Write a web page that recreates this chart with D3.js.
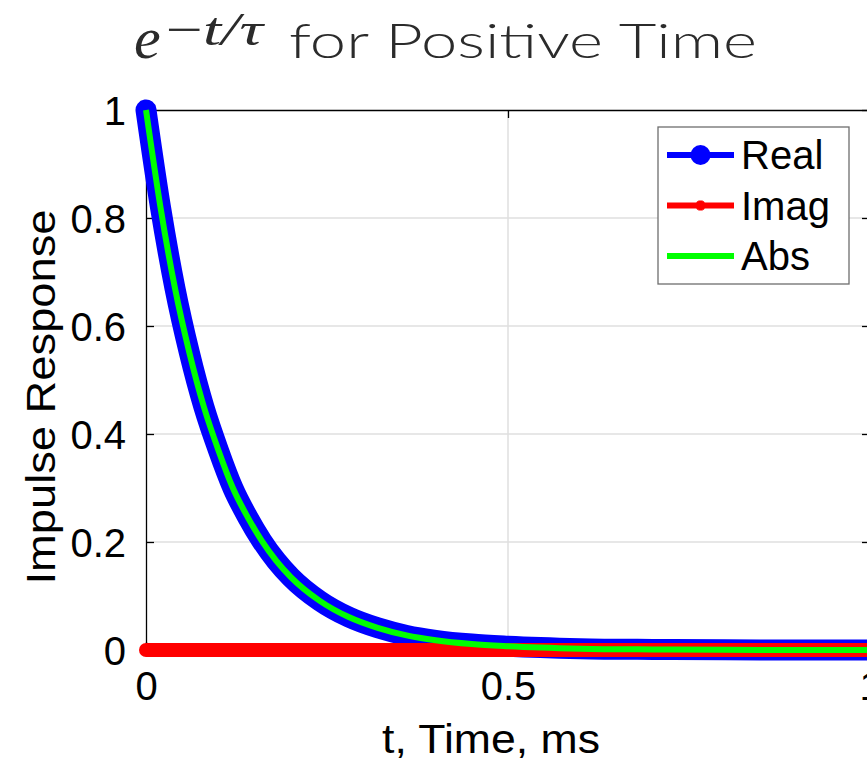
<!DOCTYPE html>
<html>
<head>
<meta charset="utf-8">
<script src="https://cdn.jsdelivr.net/npm/d3@7"></script>
<style>
  html, body { margin: 0; padding: 0; background: #fff; overflow: hidden; }
  svg { display: block; }
</style>
</head>
<body>
<div id="chart"></div>
<script>
// values
const timeMs = [0, 0.02, 0.04, 0.06, 0.08, 0.10, 0.12, 0.14, 0.16, 0.18, 0.20,
  0.24, 0.28, 0.32, 0.36, 0.40, 0.45, 0.50, 0.60, 0.70, 0.80, 0.90, 1.00];
const realPart = [1, 0.82, 0.67, 0.55, 0.45, 0.37, 0.30, 0.247, 0.202, 0.165, 0.135,
  0.091, 0.061, 0.041, 0.027, 0.018, 0.011, 0.007, 0.0025, 0.001, 0.0003, 0.0001, 0];
const imagPart = [0, 0, 0, 0, 0, 0, 0, 0, 0, 0, 0,
  0, 0, 0, 0, 0, 0, 0, 0, 0, 0, 0, 0];
const absPart = [1, 0.82, 0.67, 0.55, 0.45, 0.37, 0.30, 0.247, 0.202, 0.165, 0.135,
  0.091, 0.061, 0.041, 0.027, 0.018, 0.011, 0.007, 0.0025, 0.001, 0.0003, 0.0001, 0];

const xTicks = [0, 0.5, 1];
const yTicks = [0, 0.2, 0.4, 0.6, 0.8, 1];
const seriesNames = ["Real", "Imag", "Abs"];

const width = 867;
const height = 763;
const margin = { top: 110, left: 146 };
const plotW = 724;
const plotH = 540;

const svg = d3.select("#chart")
  .append("svg")
  .attr("width", width)
  .attr("height", height);

const x = d3.scaleLinear().domain([0, 1]).range([margin.left, margin.left + plotW]);
const y = d3.scaleLinear().domain([0, 1]).range([margin.top + plotH, margin.top]);

// grid
const grid = svg.append("g").attr("stroke", "#dfdfdf").attr("stroke-width", 1.5);
grid.selectAll("line.gy")
  .data(yTicks.filter(d => d > 0 && d < 1))
  .enter().append("line")
  .attr("x1", x(0)).attr("x2", x(1))
  .attr("y1", d => y(d)).attr("y2", d => y(d));
grid.selectAll("line.gx")
  .data(xTicks.filter(d => d > 0 && d < 1))
  .enter().append("line")
  .attr("y1", y(0)).attr("y2", y(1))
  .attr("x1", d => x(d)).attr("x2", d => x(d));

// axes box + ticks
const axisFont = "'Liberation Sans', Arial, sans-serif";

const bottomAxis = svg.append("g")
  .attr("transform", `translate(0,${y(0)})`)
  .call(d3.axisBottom(x).tickValues(xTicks).tickFormat(d3.format("")).tickSizeInner(-8).tickSizeOuter(0).tickPadding(22));
const topAxis = svg.append("g")
  .attr("transform", `translate(0,${y(1)})`)
  .call(d3.axisTop(x).tickValues(xTicks).tickFormat("").tickSizeInner(-8).tickSizeOuter(0));
const leftAxis = svg.append("g")
  .attr("transform", `translate(${x(0)},0)`)
  .call(d3.axisLeft(y).tickValues(yTicks).tickFormat(d3.format("")).tickSizeInner(-8).tickSizeOuter(0).tickPadding(20));
const rightAxis = svg.append("g")
  .attr("transform", `translate(${x(1)},0)`)
  .call(d3.axisRight(y).tickValues(yTicks).tickFormat("").tickSizeInner(-8).tickSizeOuter(0));

[bottomAxis, topAxis, leftAxis, rightAxis].forEach(g => {
  g.select(".domain").attr("stroke", "#000").attr("stroke-width", 1.3);
  g.selectAll(".tick line").attr("stroke", "#000").attr("stroke-width", 1.3);
  g.selectAll("text")
    .attr("fill", "#000")
    .style("font-family", axisFont)
    .style("font-size", "40px");
});
bottomAxis.selectAll("text").attr("dy", "0.71em");
leftAxis.selectAll("text").attr("dy", "0.36em");

// data lines
const pts = arr => timeMs.map((t, i) => [t, arr[i]]);
const line = d3.line()
  .x(d => x(d[0]))
  .y(d => y(d[1]))
  .curve(d3.curveMonotoneX);

svg.append("path")
  .attr("d", line(pts(realPart)))
  .attr("fill", "none")
  .attr("stroke", "#0000ff")
  .attr("stroke-width", 21)
  .attr("stroke-linecap", "round")
  .attr("stroke-linejoin", "round");

svg.append("path")
  .attr("d", line(pts(imagPart)))
  .attr("fill", "none")
  .attr("stroke", "#ff0000")
  .attr("stroke-width", 14)
  .attr("stroke-linecap", "round");

svg.append("path")
  .attr("d", line(pts(absPart)))
  .attr("fill", "none")
  .attr("stroke", "#00ff00")
  .attr("stroke-width", 6)
  .attr("stroke-linejoin", "round");

// legend
const legend = svg.append("g").attr("transform", "translate(658,127)");
legend.append("rect")
  .attr("width", 191).attr("height", 157)
  .attr("fill", "#fff")
  .attr("stroke", "#6e6e6e")
  .attr("stroke-width", 1.3);

const legendColors = { Real: "#0000ff", Imag: "#ff0000", Abs: "#00ff00" };
const row = legend.selectAll("g.row")
  .data(seriesNames)
  .enter().append("g")
  .attr("transform", (d, i) => `translate(0,${28 + i * 50.5})`);

row.append("line")
  .attr("x1", 9).attr("x2", 76)
  .attr("stroke", d => legendColors[d])
  .attr("stroke-width", 6);

row.filter(d => d === "Real").append("circle")
  .attr("cx", 42.5).attr("r", 10)
  .attr("fill", "#0000ff");

row.filter(d => d === "Imag").append("path")
  .attr("transform", "translate(42.5,0)")
  .attr("d", d3.symbol(d3.symbolAsterisk, 70))
  .attr("fill", "none")
  .attr("stroke", "#ff0000")
  .attr("stroke-width", 4.5);

row.append("text")
  .attr("x", 83)
  .attr("dy", "0.36em")
  .attr("fill", "#000")
  .style("font-family", axisFont)
  .style("font-size", "40px")
  .text(d => d);

// axis labels
svg.append("text")
  .attr("x", 491)
  .attr("y", 753)
  .attr("text-anchor", "middle")
  .attr("textLength", 218)
  .attr("lengthAdjust", "spacingAndGlyphs")
  .attr("fill", "#000")
  .style("font-family", axisFont)
  .style("font-size", "41px")
  .text("t, Time, ms");

svg.append("text")
  .attr("transform", "translate(55,397) rotate(-90)")
  .attr("text-anchor", "middle")
  .attr("textLength", 375)
  .attr("lengthAdjust", "spacingAndGlyphs")
  .attr("fill", "#000")
  .style("font-family", axisFont)
  .style("font-size", "41px")
  .text("Impulse Response");

// title: e^{-t/tau} for Positive Time
const title = svg.append("g").attr("fill", "#2b2b2b");
title.append("text")
  .attr("x", 134).attr("y", 58)
  .style("font-family", "'Liberation Serif', serif")
  .style("font-style", "italic")
  .style("font-weight", "normal")
  .style("font-size", "60px")
  .text("e");
title.append("text")
  .attr("x", 166).attr("y", 45)
  .attr("textLength", 97)
  .attr("lengthAdjust", "spacingAndGlyphs")
  .style("font-family", "'Liberation Serif', serif")
  .style("font-weight", "normal")
  .style("font-size", "46px")
  .text("−")
  .append("tspan")
  .style("font-style", "italic")
  .text("t/τ");
title.append("text")
  .attr("x", 289).attr("y", 58)
  .attr("textLength", 468)
  .attr("lengthAdjust", "spacingAndGlyphs")
  .style("font-family", "Lato, 'Open Sans', sans-serif")
  .style("font-weight", 300)
  .style("font-size", "47px")
  .text("for Positive Time");
</script>
</body>
</html>
